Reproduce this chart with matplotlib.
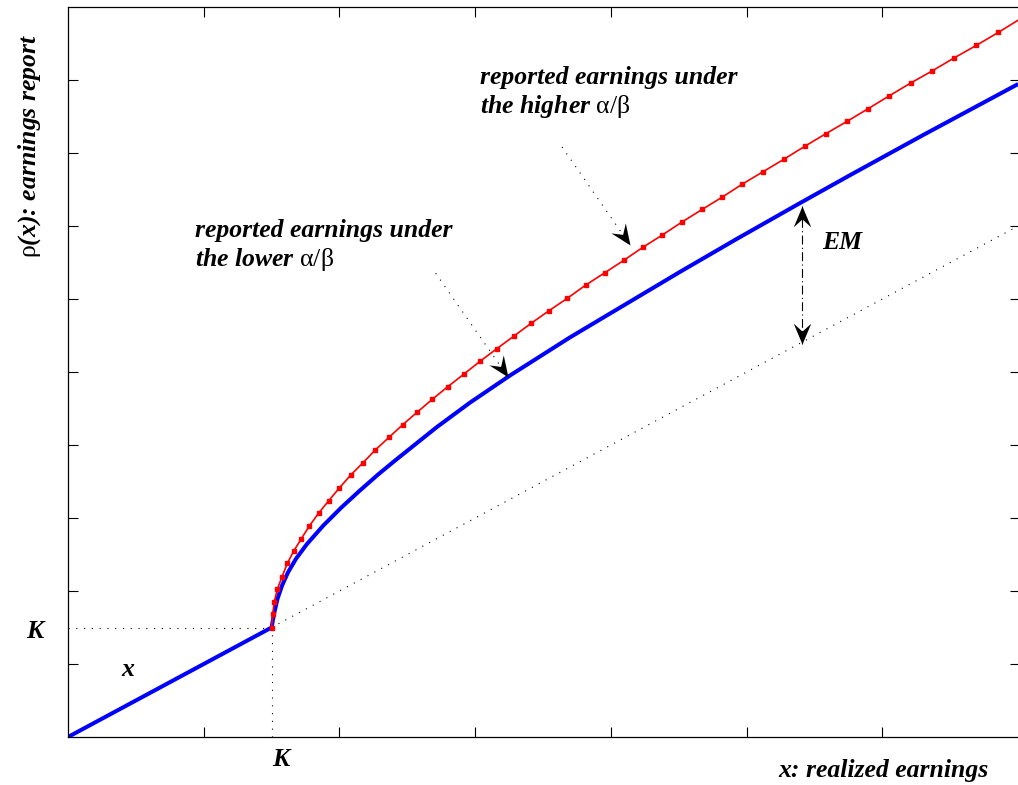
import numpy as np
import matplotlib.pyplot as plt
from matplotlib.markers import MarkerStyle
from matplotlib.path import Path
from matplotlib.transforms import Affine2D

plt.rcParams['mathtext.fontset'] = 'custom'
plt.rcParams['mathtext.rm'] = 'Liberation Serif'
plt.rcParams['mathtext.it'] = 'Liberation Serif:italic'
plt.rcParams['mathtext.bf'] = 'Liberation Serif:bold'

K = 1.5

# lower alpha/beta: reported earnings (blue)
low_x = [0.0, 1.5, 1.510, 1.522, 1.544, 1.577, 1.621, 1.680, 1.759, 1.881, 2.017, 2.152,
         2.284, 2.410, 2.717, 2.962, 3.257, 3.699, 4.510, 4.927, 5.394, 5.762, 6.302, 7.0]
low_y = [0.0, 1.5, 1.605, 1.719, 1.896, 2.075, 2.256, 2.442, 2.640, 2.897, 3.149, 3.379,
         3.595, 3.788, 4.245, 4.581, 4.953, 5.475, 6.373, 6.823, 7.315, 7.697, 8.248, 8.945]

# higher alpha/beta: reported earnings (red, with markers)
high_x = [1.5, 1.508, 1.520, 1.542, 1.577, 1.616, 1.663, 1.719, 1.778, 1.847, 1.921, 1.999,
          2.083, 2.174, 2.264, 2.365, 2.466, 2.574, 2.684, 2.798, 2.918, 3.036, 3.159, 3.286,
          3.412, 3.544, 3.679, 3.815, 3.955, 4.095, 4.235, 4.379, 4.527, 4.674, 4.821, 4.969,
          5.121, 5.274, 5.428, 5.583, 5.738, 5.895, 6.052, 6.209, 6.369, 6.531, 6.693, 6.855, 7.0]
high_y = [1.5, 1.681, 1.853, 2.023, 2.196, 2.379, 2.548, 2.716, 2.890, 3.068, 3.237, 3.411,
          3.589, 3.758, 3.932, 4.105, 4.278, 4.452, 4.626, 4.799, 4.973, 5.147, 5.319, 5.493,
          5.667, 5.840, 6.010, 6.192, 6.360, 6.530, 6.708, 6.877, 7.059, 7.229, 7.397, 7.575,
          7.744, 7.914, 8.092, 8.264, 8.432, 8.607, 8.785, 8.959, 9.127, 9.305, 9.475, 9.653, 9.82]

# annotation arrows: (start, tip)
arrow_high = ((3.640, 8.082), (4.141, 6.74))
arrow_low = ((2.709, 6.352), (3.244, 4.927))
em_x = 5.406
em_top, em_bottom = 7.28, 5.39

fig = plt.figure(figsize=(10.18, 7.85), dpi=100)
ax = fig.add_axes([68 / 1018, 48 / 785, 951.5 / 1018, 730 / 785])
ax.set_xlim(0, 7.01)
ax.set_ylim(0, 10)

dots = (0, (1, 6))
ax.plot([0, K], [K, K], color='k', lw=0.8, ls=dots)
ax.plot([K, K], [0, K], color='k', lw=0.8, ls=dots)
ax.plot([K, 7], [K, 7], color='k', lw=0.8, ls=dots)

ax.plot(low_x, low_y, color='#0000ff', lw=2.9, solid_capstyle='butt', solid_joinstyle='round')
ax.plot(high_x, high_y, color='#ff0000', lw=1.2, marker='s', ms=3.5,
        markevery=list(range(len(high_x) - 1)))

# arrow head with a notched back
head_path = Path([(0, 0), (-1, 0.42), (-0.62, 0), (-1, -0.42), (0, 0)],
                 [Path.MOVETO, Path.LINETO, Path.LINETO, Path.LINETO, Path.CLOSEPOLY])


def head(tip, start):
    p1 = ax.transData.transform(tip)
    p0 = ax.transData.transform(start)
    ang = np.degrees(np.arctan2(p1[1] - p0[1], p1[0] - p0[0]))
    m = MarkerStyle(head_path, transform=Affine2D().rotate_deg(ang))
    ax.plot(tip[0], tip[1], marker=m, ms=30, color='k', mew=0, clip_on=False)


def dotted_arrow(start, tip):
    ax.plot([start[0], tip[0]], [start[1], tip[1]], color='k', lw=0.8, ls=dots)
    head(tip, start)


dotted_arrow(*arrow_high)
dotted_arrow(*arrow_low)

ax.plot([em_x, em_x], [em_bottom, em_top], color='k', lw=0.8, ls=(0, (8, 3, 1, 3)))
head((em_x, em_top), (em_x, em_bottom))
head((em_x, em_bottom), (em_x, em_top))

tf = dict(fontfamily='Liberation Serif', fontweight='bold', fontstyle='italic', fontsize=18.5)
ax.text(3.036, 9.19, 'reported earnings under\nthe higher $\\mathrm{\\alpha/\\beta}$',
        ha='left', va='top', linespacing=1.18, **tf)
ax.text(0.936, 7.09, 'reported earnings under\nthe lower $\\mathrm{\\alpha/\\beta}$',
        ha='left', va='top', linespacing=1.18, **tf)
ax.text(5.556, 6.77, 'EM', ha='left', va='center', **tf)
ax.text(0.442, 0.918, 'x', ha='center', va='center', **tf)
ax.text(-0.243, 1.44, 'K', ha='center', va='center', clip_on=False, **tf)
ax.text(1.57, -0.315, 'K', ha='center', va='center', clip_on=False, **tf)
ax.text((778 - 68) / 951.5, -33 / 730, 'x: realized earnings', transform=ax.transAxes,
        ha='left', va='center', **tf)
ax.text(-0.28, 8.1, '$\\mathrm{\\rho}$(x): earnings report', rotation=90,
        ha='center', va='center', clip_on=False, **tf)

ax.set_xticks(np.arange(1, 7))
ax.set_yticks(np.arange(1, 10))
ax.set_xticklabels([])
ax.set_yticklabels([])
ax.tick_params(direction='in', length=7, width=0.8, top=True, right=True)
for s in ax.spines.values():
    s.set_linewidth(0.9)

fig.savefig('out.png', dpi=100)
